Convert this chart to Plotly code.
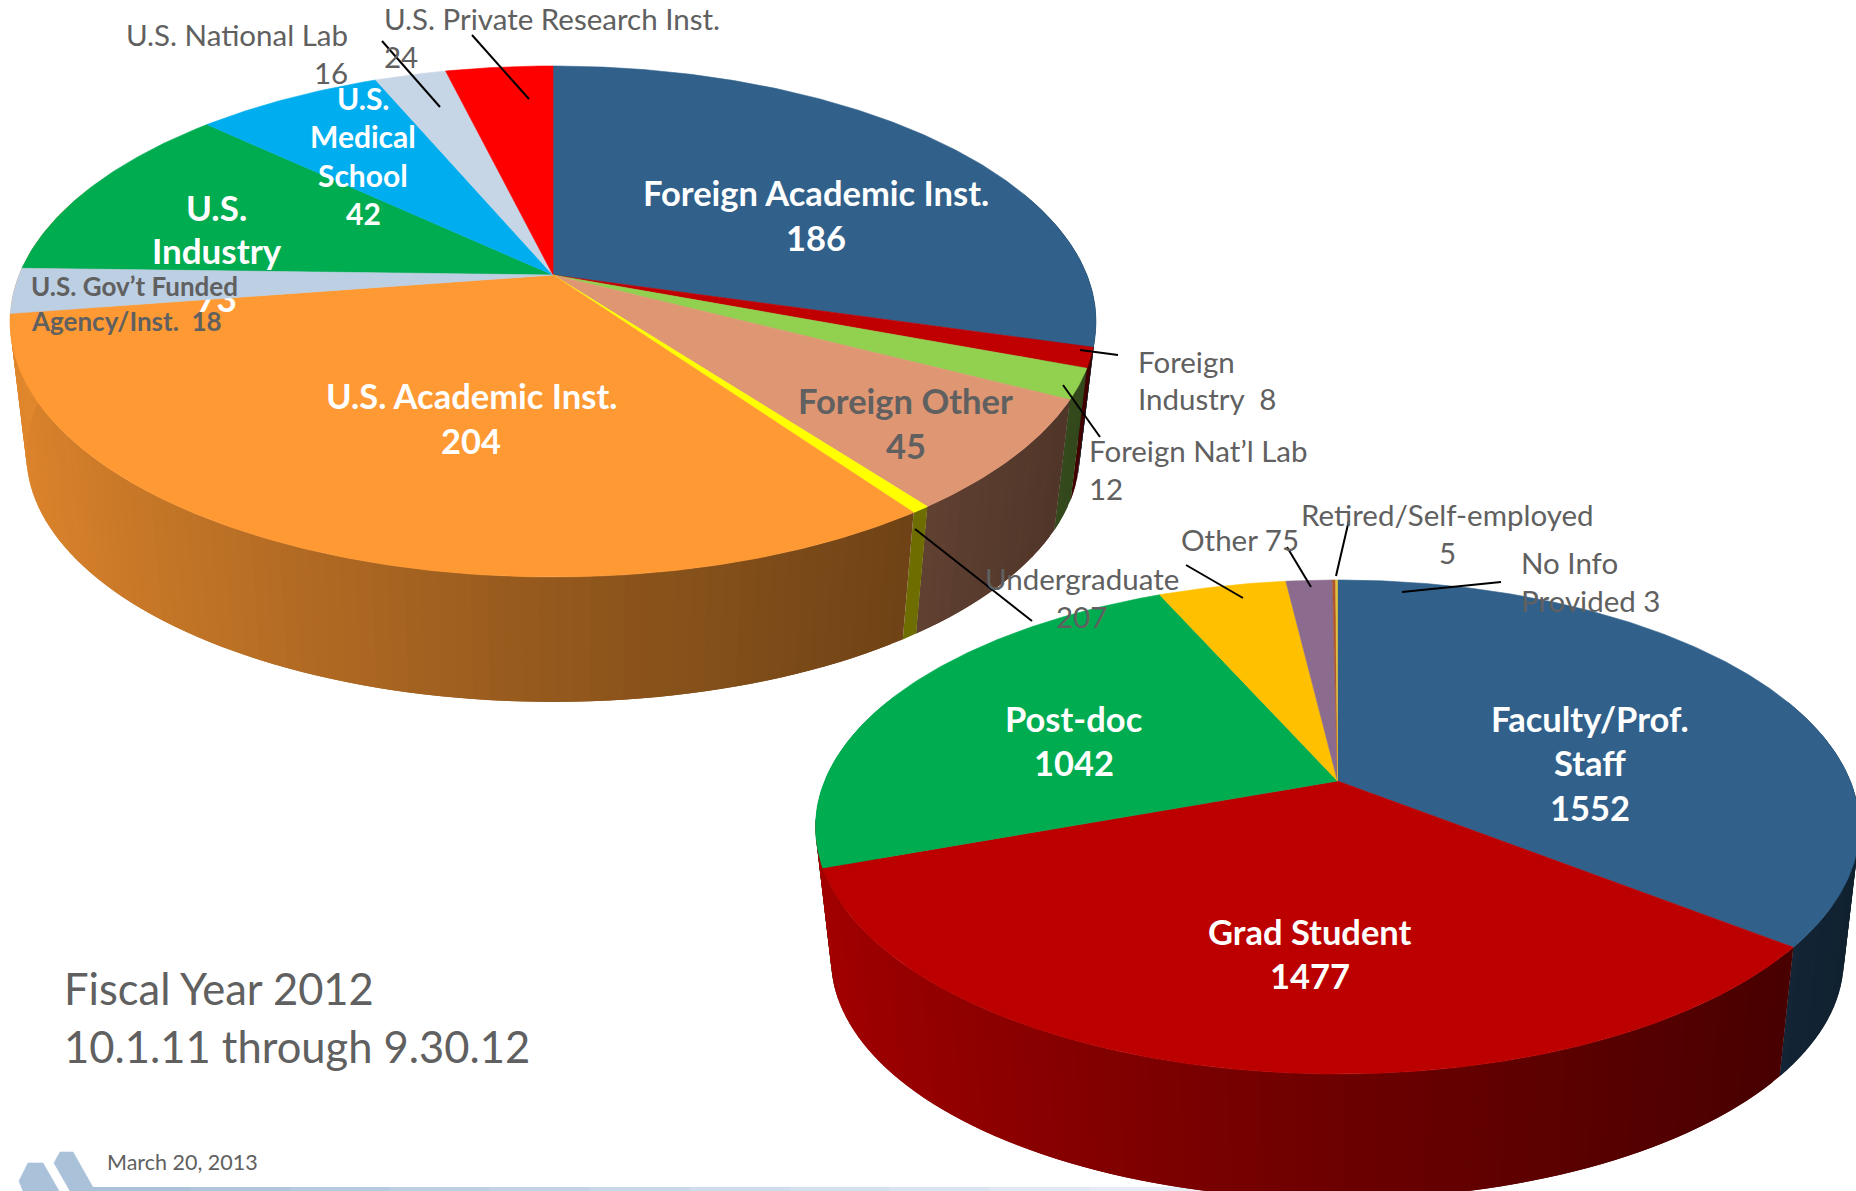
import numpy as np
import plotly.graph_objects as go

S = 1856 / 1568
FONT = "Lato"
GREY = "#606060"

# ---- data -------------------------------------------------------------
inst_names = ["Foreign Academic Inst.", "Foreign Industry", "Foreign Nat'l Lab", "Foreign Other",
              "Unlabelled", "U.S. Academic Inst.", "U.S. Gov't Funded Agency/Inst.", "U.S. Industry",
              "U.S. Medical School", "U.S. National Lab", "U.S. Private Research Inst."]
inst_values = [186, 8, 12, 45, 3, 204, 18, 73, 42, 16, 24]
inst_colors = ["#31618B", "#C00000", "#92D050", "#DF9673", "#FFFF00", "#FF9933",
               "#BCCFE3", "#00AC50", "#00AEEF", "#C6D6E6", "#FF0000"]
# the far-left rim shows only the orange wall in the reference
inst_wall_colors = ["#31618B", "#C00000", "#92D050", "#DF9673", "#FFFF00", "#FF9933",
                    "#FF9933", "#FF9933", "#FF9933", "#FF9933", "#FF9933"]

role_names = ["Faculty/Prof. Staff", "Grad Student", "Post-doc", "Undergraduate", "Other",
              "Retired/Self-employed", "No Info Provided"]
role_values = [1552, 1477, 1042, 207, 75, 5, 3]
role_colors = ["#31618B", "#BC0000", "#00AC50", "#FFC000", "#8B6C8F", "#B0562A", "#E3C13A"]

# geometry of the two tilted discs (apex, top/bottom reach, half width, wall)
inst_geo = dict(cx=553, cy=275, top=209, bottom=302, rx=543, depth=134, shrink=0.97)
role_geo = dict(cx=1337.5, cy=781, top=201, bottom=293, rx=522, depth=134, shrink=0.97)


def projector(g):
    ratio = g["top"] / g["bottom"]
    k = (1 - ratio) / (1 + ratio)
    B = g["top"] * (1 + k)
    A = g["rx"] * np.sqrt(1 - k * k)

    def rim(t, base=False):
        x, y = np.sin(t), np.cos(t)
        w = 1 + k * y
        sx, sy = A * x / w, -B * y / w
        if base:
            return g["cx"] + g["shrink"] * sx, g["cy"] + g["depth"] + g["shrink"] * sy
        return g["cx"] + sx, g["cy"] + sy

    return rim


def shade(hex_color, f):
    r, g, b = int(hex_color[1:3], 16), int(hex_color[3:5], 16), int(hex_color[5:7], 16)
    return f"rgb({int(r * f)},{int(g * f)},{int(b * f)})"


fig = go.Figure()


def poly(xs, ys, color, name, lw=0.6):
    fig.add_trace(go.Scatter(x=xs, y=ys, mode="lines", fill="toself", fillcolor=color,
                             line=dict(color=color, width=lw), hoverinfo="skip",
                             name=name, showlegend=False))


def angles(values):
    v = np.array(values, float)
    return np.concatenate([[0], np.cumsum(v)]) / v.sum() * 2 * np.pi


def wall_factor(t):
    u = (np.sin(t) + 1) / 2
    return 0.88 - 0.60 * u if u < 0.5 else 0.58 - 0.50 * (u - 0.5)


def draw_walls(values, colors, names, g, extend=None):
    rim = projector(g)
    edges = angles(values)
    extend = extend or {}
    order = [i for i in range(len(colors)) if i not in extend] + list(extend)
    for i in order:
        c = colors[i]
        a, b = edges[i], edges[i + 1] + np.radians(extend.get(i, 0))
        n = max(1, int((b - a) / np.radians(1.5)))
        grid = np.linspace(a, b, n + 1)
        cells = list(zip(grid[:-1], grid[1:]))
        for j, (t0, t1) in enumerate(cells):
            if np.cos((t0 + t1) / 2) > 0.35:
                continue
            t_end = cells[j + 1][1] if j + 1 < len(cells) else t1
            tt = np.linspace(t0, t_end, 3)
            xt, yt = rim(tt)
            xb, yb = rim(tt[::-1], True)
            poly(np.r_[xt, xb, xt[0]], np.r_[yt, yb, yt[0]], shade(c, wall_factor((t0 + t1) / 2)),
                 names[i] + " wall", lw=0)


def draw_top(values, colors, names, g, order=None):
    rim = projector(g)
    edges = angles(values)
    for i in (order if order is not None else range(len(values))):
        t = np.linspace(edges[i], edges[i + 1], max(3, int((edges[i + 1] - edges[i]) / 0.01)))
        x, y = rim(t)
        poly(np.r_[g["cx"], x, g["cx"]], np.r_[g["cy"], y, g["cy"]], colors[i], names[i])


# bottom-left logo and footer rule
poly([19, 28, 43, 59, 23, 19], [1181, 1163, 1163, 1191, 1191, 1181], "#A9C1D9", "logo a")
poly([54, 60, 73, 95, 70, 54], [1163, 1152, 1152, 1191, 1191, 1163], "#A9C1D9", "logo b")
rule_stops = list(range(90, 1300, 100))
rule_cols = ["#A9C1D9", "#AFC5DC", "#B6CADF", "#BDCFE2", "#C3D3E5", "#C9D8E8", "#CFDCEB",
             "#D5E0ED", "#DAE4EF", "#E0E8F2", "#E6ECF4", "#EBF0F6", "#F1F4F9"]
for x0, col in zip(rule_stops, rule_cols):
    poly([x0, x0 + 100, x0 + 100, x0, x0], [1187, 1187, 1192, 1192, 1187], col, "rule", lw=0)

draw_walls(role_values, role_colors, role_names, role_geo, extend={1: 11})
draw_top(role_values, role_colors, role_names, role_geo)

draw_walls(inst_values, inst_wall_colors, inst_names, inst_geo)
gov = inst_names.index("U.S. Gov't Funded Agency/Inst.")
draw_top(inst_values, inst_colors, inst_names, inst_geo, [i for i in range(len(inst_values)) if i != gov])

# U.S. Industry label sits under the Gov't slice
ind_lines = [("U.S.", 179), ("Industry", 216), ("73", 256)]
fig.add_trace(go.Scatter(x=[183 * S] * 3, y=[l[1] * S for l in ind_lines], mode="text",
                         text=[f"<b>{l[0]}</b>" for l in ind_lines],
                         textfont=dict(family=FONT, size=35, color="white"),
                         textposition="middle center", hoverinfo="skip", showlegend=False))
draw_top(inst_values, inst_colors, inst_names, inst_geo, [gov])

# ---- text --------------------------------------------------------------
annos = []


def label(text, x, y, size, color=GREY, bold=False, anchor="center"):
    annos.append(dict(x=x * S, y=(y - 1) * S, xref="x", yref="y", text=f"<b>{text}</b>" if bold else text,
                      showarrow=False, xanchor=anchor, yanchor="middle", align=anchor,
                      font=dict(family=FONT, size=size, color=color), borderpad=0, borderwidth=0))


for t, x, y in [("Foreign Academic Inst.", 689, 164), ("186", 689, 202),
                ("U.S. Academic Inst.", 398, 335), ("204", 398, 373),
                ("Faculty/Prof.", 1343, 608), ("Staff", 1343, 645), ("1552", 1343, 683),
                ("Post-doc", 907, 608), ("1042", 907, 645),
                ("Grad Student", 1107, 788), ("1477", 1107, 825)]:
    label(t, x, y, 34.5, "white", True)
for t, y in [("U.S.", 84), ("Medical", 116), ("School", 149), ("42", 181)]:
    label(t, 307, y, 30, "white", True)
label("Foreign Other", 765, 339, 34.5, GREY, True)
label("45", 765, 377, 34.5, GREY, True)
label("U.S. Gov’t Funded", 26, 243, 26, GREY, True, "left")
label("Agency/Inst.  18", 26, 272, 26, GREY, True, "left")

R = 29.5
label("U.S. National Lab", 294, 30, R, anchor="right")
label("16", 294, 62, R, anchor="right")
label("U.S. Private Research Inst.", 324, 17, R, anchor="left")
label("24", 324, 49, R, anchor="left")
label("Foreign", 961, 306, R, anchor="left")
label("Industry  8", 961, 338, R, anchor="left")
label("Foreign Nat’l Lab", 920, 382, R, anchor="left")
label("12", 920, 414, R, anchor="left")
label("Retired/Self-employed", 1223, 436, R)
label("5", 1223, 468, R)
label("Other 75", 998, 457, R, anchor="left")
label("Undergraduate", 996, 490, R, anchor="right")
label("207", 914, 522, R)
label("No Info", 1285, 476, R, anchor="left")
label("Provided 3", 1285, 508, R, anchor="left")
label("Fiscal Year 2012", 54, 836, 43.5, anchor="left")
label("10.1.11 through 9.30.12", 54, 885, 43.5, anchor="left")
label("March 20, 2013", 90, 983, 21.5, anchor="left")

leaders = [(382, 41, 440, 107), (472, 35, 529, 99), (1080, 350, 1118, 355), (1063, 385, 1100, 437),
           (915, 529, 1032, 621), (1186, 565, 1243, 598), (1287, 547, 1311, 587), (1349, 520, 1336, 576),
           (1402, 592, 1501, 582)]
shapes = [dict(type="line", xref="x", yref="y", x0=a, y0=b, x1=c, y1=d,
               line=dict(color="black", width=2)) for a, b, c, d in leaders]

fig.update_layout(width=1856, height=1191, margin=dict(l=0, r=0, t=0, b=0), autosize=False,
                  paper_bgcolor="white", plot_bgcolor="white", showlegend=False,
                  annotations=annos, shapes=shapes,
                  xaxis=dict(range=[0, 1856], visible=False, fixedrange=True),
                  yaxis=dict(range=[1191, 0], visible=False, fixedrange=True))
fig.write_html("out.html", config=dict(displayModeBar=False),
               post_script="document.body.style.margin='0';document.documentElement.style.overflow='hidden';")
